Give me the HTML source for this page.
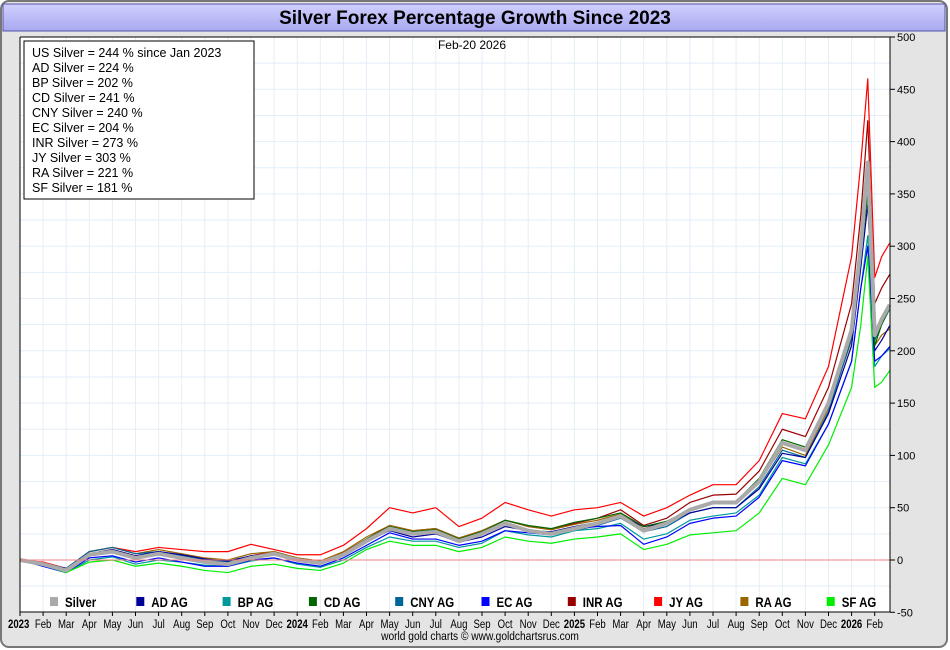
<!DOCTYPE html>
<html><head><meta charset="utf-8"><style>
body{margin:0;background:#fff;font-family:"Liberation Sans",sans-serif}
svg{display:block}
</style></head><body>
<svg id="c" width="950" height="650">
<defs><linearGradient id="tg" x1="0" y1="0" x2="0" y2="1"><stop offset="0" stop-color="#d0d0ff"/><stop offset="1" stop-color="#a8a8f0"/></linearGradient></defs>
<rect x="1" y="1" width="946" height="646" rx="8" fill="#e4e4e4" stroke="#777" stroke-width="2"/>
<rect x="3" y="4" width="942" height="27" fill="url(#tg)" stroke="#5555aa"/>
<text x="475" y="24" text-anchor="middle" font-size="19" font-weight="bold" fill="#000">Silver Forex Percentage Growth Since 2023</text>
<rect x="20" y="37" width="870" height="575" fill="#fff"/>
<g id="grid"></g><g id="series"></g>
<line x1="20" y1="560" x2="890" y2="560" stroke="#f08080" stroke-width="1"/>
<line x1="890" y1="37" x2="890" y2="612" stroke="#000"/>
<line x1="20" y1="612" x2="890" y2="612" stroke="#000"/>
<line x1="20" y1="37" x2="890" y2="37" stroke="#000"/>
<line x1="20" y1="37" x2="20" y2="612" stroke="#000"/>
<g id="yt"></g><g id="xt"></g><g id="leg"></g>
<text x="472" y="49" text-anchor="middle" font-size="12">Feb-20  2026</text>
<g>
<rect x="24" y="41" width="230" height="158" fill="#fff" stroke="#000"/>
<g font-size="12.5" id="stats"></g>
</g>
<text transform="translate(480,640) scale(0.85,1)" text-anchor="middle" font-size="12">world gold charts © www.goldchartsrus.com</text>
</svg>
<script>
const t=[0,1,2,3,4,5,6,7,8,9,10,11,12,13,14,15,16,17,18,19,20,21,22,23,24,25,26,27,28,29,30,31,32,33,34,35,36,36.4,36.7,37.0,37.3,37.65];
const silver=[0,-4,-10,5,8,2,6,2,-2,-4,2,6,0,-3,5,18,30,25,27,18,25,35,28,25,30,35,42,28,35,48,55,55,75,112,105,150,220,300,380,215,230,244];
const jy=[0,-2,-8,8,12,8,12,10,8,8,15,10,5,5,14,30,50,45,50,32,40,55,48,42,48,50,55,42,50,62,72,72,95,140,135,185,290,380,460,270,290,303];
const inr=[0,-3,-9,6,10,4,8,4,0,-2,4,8,2,-1,7,20,33,28,30,21,28,38,32,29,35,40,48,33,40,55,62,63,85,125,118,165,245,330,420,245,260,273];
const ad=[0,-4,-8,6,10,4,8,5,1,-1,4,6,0,-3,6,18,28,22,25,17,22,32,28,27,32,36,42,32,35,45,50,50,68,102,98,140,205,280,340,200,210,224];
const bp=[0,-6,-12,0,3,-4,0,-2,-5,-6,-1,2,-4,-7,0,12,22,18,18,12,16,28,24,22,28,30,35,20,25,38,42,45,62,98,92,130,190,260,310,185,195,202];
const cd=[0,-4,-9,5,8,2,6,2,-2,-4,2,6,0,-3,6,20,32,27,29,20,27,38,33,30,36,40,45,32,37,48,55,56,78,115,108,152,215,290,350,205,225,241];
const cny=[0,-3,-8,8,12,6,8,4,0,-2,3,5,0,-3,6,18,30,25,27,18,25,35,28,24,28,33,40,27,32,45,50,50,70,105,98,142,212,290,360,210,225,240];
const ec=[0,-6,-12,2,4,-2,2,-2,-6,-6,0,2,-3,-6,2,14,26,20,20,14,18,28,26,24,30,32,33,15,22,35,40,42,60,95,90,130,190,260,300,190,195,204];
const ra=[0,-3,-8,8,12,6,10,6,2,0,6,8,2,-1,8,22,33,28,30,21,28,38,32,29,34,38,44,30,36,48,54,54,74,108,100,145,210,290,355,205,215,221];
const sf=[0,-5,-12,-2,0,-6,-3,-6,-10,-12,-6,-4,-8,-10,-3,10,18,14,14,8,12,22,18,16,20,22,25,10,15,24,26,28,45,78,72,110,165,225,290,165,170,181];
const yTicks=[-50,0,50,100,150,200,250,300,350,400,450,500];
const monthLabels=["2023","Feb","Mar","Apr","May","Jun","Jul","Aug","Sep","Oct","Nov","Dec","2024","Feb","Mar","Apr","May","Jun","Jul","Aug","Sep","Oct","Nov","Dec","2025","Feb","Mar","Apr","May","Jun","Jul","Aug","Sep","Oct","Nov","Dec","2026","Feb"];
const statLines=["US Silver = 244 % since Jan 2023","AD Silver = 224 %","BP Silver = 202 %","CD Silver = 241 %","CNY Silver = 240 %","EC Silver = 204 %","INR Silver = 273 %","JY Silver = 303 %","RA Silver = 221 %","SF Silver = 181 %"];
const NS="http://www.w3.org/2000/svg";
const X=m=>20+m*23.1, Y=v=>560-v*1.046;
function mk(tag,attrs,parent){const e=document.createElementNS(NS,tag);for(const k in attrs)e.setAttribute(k,attrs[k]);parent.appendChild(e);return e;}
const grid=document.getElementById('grid');
for(let v=-50;v<=500;v+=25){const l=mk('line',{x1:20,x2:890,y1:Y(v),y2:Y(v),stroke:'#e3eef8'},grid);

}
for(let m=0;m<38;m++){const l=mk('line',{x1:X(m),x2:X(m),y1:37,y2:612,stroke:'#e3eef8'},grid);

}
const yt=document.getElementById('yt');
yTicks.forEach(v=>{mk('line',{x1:890,x2:895,y1:Y(v),y2:Y(v),stroke:'#000'},yt);
const s=mk('text',{x:897,y:Y(v)+4,'font-size':11},yt);s.textContent=v;

});
const xt=document.getElementById('xt');
monthLabels.forEach((lb,i)=>{mk('line',{x1:X(i),x2:X(i),y1:612,y2:616,stroke:'#000'},xt);
const s=mk('text',{transform:'translate('+(i==0?X(i)-12:X(i))+',628) scale(0.8,1)','text-anchor':i==0?'start':'middle','font-size':12,'font-weight':/^\d{4}$/.test(lb)?'bold':'normal'},xt);s.textContent=lb;

});
const series=[["AD AG",ad,"#000099"],["BP AG",bp,"#009999"],["CD AG",cd,"#006600"],["CNY AG",cny,"#006699"],["EC AG",ec,"#0000ff"],["INR AG",inr,"#990000"],["JY AG",jy,"#ff0000"],["RA AG",ra,"#996600"],["SF AG",sf,"#00ee00"]];
const sg=document.getElementById('series');
function draw(vals,col,w,name){const p=mk('polyline',{points:vals.map((v,i)=>X(t[i])+','+Y(v)).join(' '),fill:'none',stroke:col,'stroke-width':w,'stroke-linejoin':'round'},sg);

}
[6,5,7,3,0,2,1,4,8].forEach(i=>draw(series[i][1],series[i][2],1.2,'line-'+series[i][0].toLowerCase().replace(/ /g,'-')));
draw(silver,'#aaaaaa',4,'line-silver');
const leg=document.getElementById('leg');
const legItems=[["Silver","#aaaaaa"]].concat(series.map(s=>[s[0],s[2]]));
legItems.forEach((it,i)=>{const x=47+i*86.3;const g=mk('g',{},leg);


mk('rect',{x:x+3,y:597,width:8,height:9,fill:it[1]},g);
const s=mk('text',{transform:'translate('+(x+18)+',607) scale(0.82,1)','font-size':14,'font-weight':'bold'},g);s.textContent=it[0];});
const st=document.getElementById('stats');
statLines.forEach((l,i)=>{const s=mk('text',{x:32,y:57+i*15},st);s.textContent=l;

});
</script>
</body></html>
